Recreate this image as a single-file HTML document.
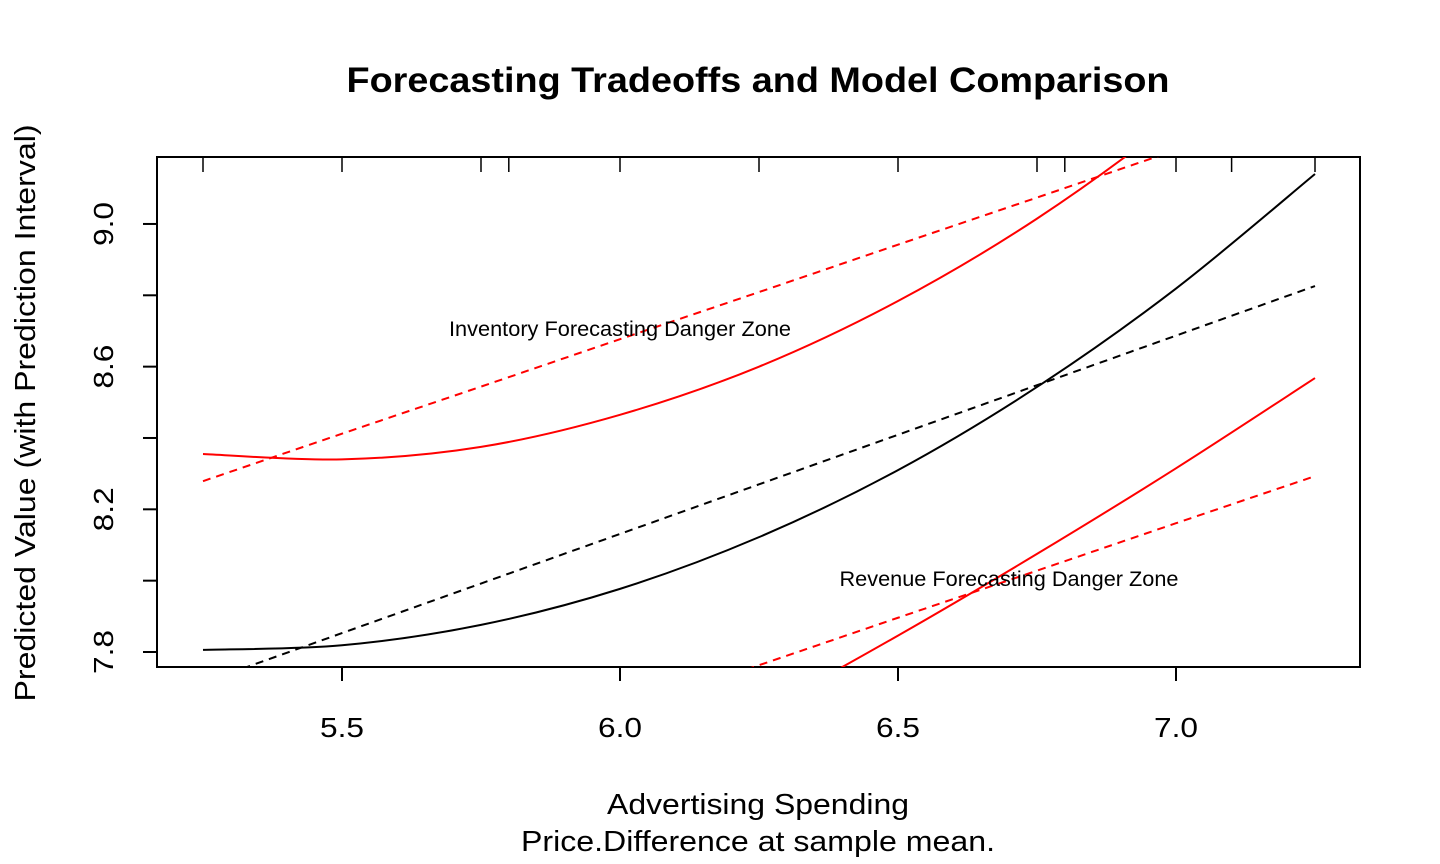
<!DOCTYPE html>
<html><head><meta charset="utf-8"><style>
html,body{margin:0;padding:0;background:#fff;overflow:hidden;width:1440px;height:864px;}
svg{display:block;font-family:"Liberation Sans",Arial,sans-serif;}
</style></head><body>
<svg id="chart" width="1440" height="864" viewBox="0 0 1440 864" xmlns="http://www.w3.org/2000/svg">
<defs><clipPath id="plotclip"><rect x="157" y="157" width="1203" height="510"/></clipPath></defs>
<text x="758" y="92" text-anchor="middle" font-size="35" font-weight="bold" textLength="823" lengthAdjust="spacingAndGlyphs">Forecasting Tradeoffs and Model Comparison</text>
<text x="758" y="814" text-anchor="middle" font-size="29" textLength="302" lengthAdjust="spacingAndGlyphs">Advertising Spending</text>
<text x="758" y="851" text-anchor="middle" font-size="29" textLength="474" lengthAdjust="spacingAndGlyphs">Price.Difference at sample mean.</text>
<text transform="translate(35,413) rotate(-90)" text-anchor="middle" font-size="29" textLength="577" lengthAdjust="spacingAndGlyphs">Predicted Value (with Prediction Interval)</text>
<rect x="157" y="157" width="1203" height="510" fill="none" stroke="#000" stroke-width="2"/>
<g id="axes"></g>
<g id="rug"></g>
<g id="series" clip-path="url(#plotclip)"></g>
<text x="620" y="336" text-anchor="middle" font-size="21" textLength="342" lengthAdjust="spacingAndGlyphs">Inventory Forecasting Danger Zone</text>
<text x="1009" y="586" text-anchor="middle" font-size="21" textLength="339" lengthAdjust="spacingAndGlyphs">Revenue Forecasting Danger Zone</text>
</svg>
<script>
const xValues = [5.25, 5.5, 5.75, 6.0, 6.25, 6.5, 6.75, 7.0, 7.25];
const fitQuadratic = [7.806, 7.819, 7.876, 7.977, 8.122, 8.310, 8.543, 8.819, 9.140];
const fitLinear = [7.714, 7.853, 7.992, 8.131, 8.270, 8.409, 8.548, 8.687, 8.826];
const upperQuadratic = [8.355, 8.340, 8.375, 8.465, 8.600, 8.784, 9.015, 9.297, 9.627];
const lowerQuadratic = [6.888, 7.054, 7.234, 7.426, 7.630, 7.846, 8.075, 8.315, 8.568];
const upperLinear = [8.279, 8.412, 8.544, 8.677, 8.809, 8.942, 9.074, 9.207, 9.339];
const lowerLinear = [7.233, 7.366, 7.498, 7.631, 7.763, 7.896, 8.028, 8.161, 8.293];
const xTicks = [5.5, 6.0, 6.5, 7.0];
const xTickLabels = ["5.5", "6.0", "6.5", "7.0"];
const yTicks = [7.8, 8.0, 8.2, 8.4, 8.6, 8.8, 9.0];
const yTickLabels = ["7.8", "", "8.2", "", "8.6", "", "9.0"];
const rugValues = [5.25, 5.5, 5.75, 5.8, 6.0, 6.25, 6.5, 6.75, 6.8, 7.0, 7.1, 7.25];

const NS = "http://www.w3.org/2000/svg";
function sx(v){ return 342 + (v - 5.5) * 556; }
function sy(v){ return 652 - (v - 7.8) * 356.7; }
function mk(tag, attrs, parent){
  const e = document.createElementNS(NS, tag);
  for (const k in attrs) e.setAttribute(k, attrs[k]);
  parent.appendChild(e); return e;
}
const axes = document.getElementById('axes');
xTicks.forEach((t, i) => {
  const l = mk('line', {x1: sx(t), x2: sx(t), y1: 667, y2: 681, stroke: '#000', 'stroke-width': 2}, axes);
  
  
  const tx = mk('text', {x: sx(t), y: 737, 'text-anchor': 'middle', 'font-size': 28, textLength: 44, lengthAdjust: 'spacingAndGlyphs'}, axes);
  tx.textContent = xTickLabels[i];
  
  
});
yTicks.forEach((t, i) => {
  const l = mk('line', {x1: 143, x2: 157, y1: sy(t), y2: sy(t), stroke: '#000', 'stroke-width': 2}, axes);
  
  
  if (yTickLabels[i]) {
    const tx = mk('text', {transform: `translate(113,${sy(t)}) rotate(-90)`, 'text-anchor': 'middle', 'font-size': 28, textLength: 44, lengthAdjust: 'spacingAndGlyphs'}, axes);
    tx.textContent = yTickLabels[i];
    
    
  }
});
const rug = document.getElementById('rug');
rugValues.forEach(v => {
  const l = mk('line', {x1: sx(v), x2: sx(v), y1: 157, y2: 172, stroke: '#000', 'stroke-width': 1.5}, rug);
  
  
});
function pathFor(vals){
  const p = xValues.map((x, i) => [sx(x), sy(vals[i])]);
  let d = `M${p[0][0]},${p[0][1]}`;
  for (let i = 0; i < p.length - 1; i++) {
    const p0 = p[i - 1] || p[i], p1 = p[i], p2 = p[i + 1], p3 = p[i + 2] || p[i + 1];
    const c1 = [p1[0] + (p2[0] - p0[0]) / 6, p1[1] + (p2[1] - p0[1]) / 6];
    const c2 = [p2[0] - (p3[0] - p1[0]) / 6, p2[1] - (p3[1] - p1[1]) / 6];
    d += ` C${c1[0]},${c1[1]} ${c2[0]},${c2[1]} ${p2[0]},${p2[1]}`;
  }
  return d;
}
const series = document.getElementById('series');
const defs = [
  [fitQuadratic, '#000', false, 'quadratic-fit-line'],
  [fitLinear, '#000', true, 'linear-fit-line'],
  [upperQuadratic, '#ff0000', false, 'quadratic-upper-interval'],
  [lowerQuadratic, '#ff0000', false, 'quadratic-lower-interval'],
  [upperLinear, '#ff0000', true, 'linear-upper-interval'],
  [lowerLinear, '#ff0000', true, 'linear-lower-interval']
];
defs.forEach(([vals, col, dashed, name]) => {
  const a = {d: pathFor(vals), fill: 'none', stroke: col, 'stroke-width': 2};
  if (dashed) a['stroke-dasharray'] = '8,6';
  const el = mk('path', a, series);
  
  
});
</script>
</body></html>
